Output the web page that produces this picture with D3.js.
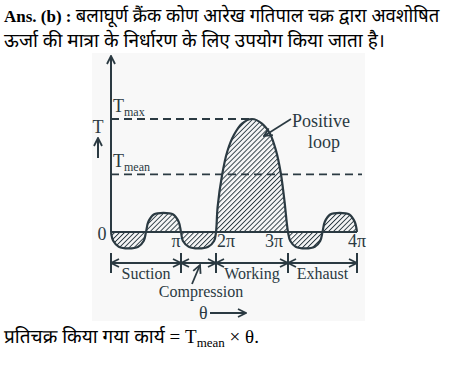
<!DOCTYPE html>
<html>
<head>
<meta charset="utf-8">
<script src="https://cdn.jsdelivr.net/npm/d3@7"></script>
<style>
  body { margin: 0; background: #fff; }
  svg { display: block; }
</style>
</head>
<body>
<svg id="chart" width="470" height="376"></svg>
<script>
// crank angle (deg) at phase boundaries
var boundaries = [0, 180, 360, 540, 720];
var tickLabels = ["0", "\u03c0", "2\u03c0", "3\u03c0", "4\u03c0"];
var phases = ["Suction", "Compression", "Working", "Exhaust"];

// turning moment curve (T in % of Tmax)
var angles = [0, 6, 20, 45, 70, 84, 90, 96, 110, 135, 160, 174, 180,
              190, 220, 270, 320, 350, 360,
              364, 375, 388, 405, 425, 450, 475, 495, 510, 522, 531, 540,
              546, 560, 585, 610, 624, 630, 636, 650, 675, 700, 714, 720];
var torque = [0, -8, -13, -14.5, -13, -8, 0, 9, 15.5, 17, 15.5, 9, 0,
              -8, -13, -14.5, -13, -8, 0,
              22, 50, 71, 86, 96, 100, 96, 87, 72, 52, 28, 0,
              -8, -13, -14.5, -13, -8, 0, 9, 15.5, 17, 15.5, 9, 0];
var Tmax = 100;
var Tmean = 51;

var ink = "#2b3a42";
var serif = "'Liberation Serif', 'Times New Roman', serif";
var hindi = "'Noto Sans Devanagari', 'Lohit Devanagari', FreeSerif, 'Noto Sans', sans-serif";
var svg = d3.select("#chart");

var x = d3.scaleLinear().domain(boundaries).range([111, 181, 216, 288, 357]);
var y = d3.scaleLinear().domain([0, 100]).range([232, 119]);

var pts = angles.map(function (a, i) { return {a: a, t: torque[i]}; });

var defs = svg.append("defs");
var pat = defs.append("pattern").attr("id", "hatch")
    .attr("patternUnits", "userSpaceOnUse").attr("width", 3.5).attr("height", 3.5)
    .attr("patternTransform", "rotate(45)");
pat.append("line").attr("x1", 0).attr("y1", 0).attr("x2", 0).attr("y2", 3.5)
    .attr("stroke", ink).attr("stroke-width", 1.9);

function chevron(id, orient) {
  defs.append("marker").attr("id", id).attr("viewBox", "0 0 10 10")
    .attr("refX", 9).attr("refY", 5).attr("markerWidth", 10).attr("markerHeight", 10)
    .attr("markerUnits", "userSpaceOnUse").attr("orient", orient)
    .append("path").attr("d", "M1,1 L9,5 L1,9").attr("fill", "none")
    .attr("stroke", ink).attr("stroke-width", 1.8);
}
chevron("arrEnd", "auto");
chevron("arrStart", "auto-start-reverse");

// pale panel behind the diagram
svg.append("rect").attr("x", 92).attr("y", 53).attr("width", 273).attr("height", 268)
    .attr("fill", "#f8f8f8");

// header text
var hdr = svg.append("text").attr("x", 4).attr("y", 22).attr("fill", "#000");
hdr.append("tspan").attr("font-family", serif).attr("font-weight", "bold")
    .style("font-size", "17px").text("Ans. (b) : ");
hdr.append("tspan").attr("font-family", hindi).style("font-size", "18.5px")
    .text("बलाघूर्ण क्रैंक कोण आरेख गतिपाल चक्र द्वारा अवशोषित");
svg.append("text").attr("x", 4).attr("y", 47).attr("fill", "#000")
    .attr("font-family", hindi).style("font-size", "19px")
    .text("ऊर्जा की मात्रा के निर्धारण के लिए उपयोग किया जाता है।");

// curve fill + outline
var curve = d3.curveCatmullRom.alpha(0.5);
var area = d3.area().x(function (d) { return x(d.a); })
    .y0(y(0)).y1(function (d) { return y(d.t); }).curve(curve);
var line = d3.line().x(function (d) { return x(d.a); })
    .y(function (d) { return y(d.t); }).curve(curve);

svg.append("path").datum(pts).attr("d", area).attr("fill", "url(#hatch)");

// dashed Tmax / Tmean lines
svg.append("line").attr("x1", x(0)).attr("x2", x(450)).attr("y1", y(Tmax)).attr("y2", y(Tmax))
    .attr("stroke", ink).attr("stroke-width", 1.8).attr("stroke-dasharray", "8,5");
svg.append("line").attr("x1", x(0)).attr("x2", 362).attr("y1", y(Tmean)).attr("y2", y(Tmean))
    .attr("stroke", ink).attr("stroke-width", 1.8).attr("stroke-dasharray", "8,5");

svg.append("path").datum(pts).attr("d", line).attr("fill", "none")
    .attr("stroke", ink).attr("stroke-width", 2.2);

// zero line and T axis
svg.append("line").attr("x1", x(0)).attr("x2", x(720)).attr("y1", y(0)).attr("y2", y(0))
    .attr("stroke", ink).attr("stroke-width", 2);
svg.append("line").attr("x1", x(0)).attr("x2", x(0)).attr("y1", y(0)).attr("y2", 56)
    .attr("stroke", ink).attr("stroke-width", 2).attr("marker-end", "url(#arrEnd)");

// tick labels
var tickDx = [-9, -5, 10, -14, 0];
svg.selectAll(".tick").data(boundaries).enter().append("text")
    .attr("x", function (d, i) { return x(d) + tickDx[i]; })
    .attr("y", function (d, i) { return i == 0 ? 240 : 247; })
    .attr("text-anchor", "middle").attr("font-family", serif).style("font-size", "18px")
    .attr("fill", ink).text(function (d, i) { return tickLabels[i]; });

// T labels
function subLabel(xp, yp, sub) {
  var t = svg.append("text").attr("x", xp).attr("y", yp).attr("font-family", serif)
      .attr("fill", ink).style("font-size", "18px");
  t.append("tspan").text("T");
  t.append("tspan").attr("dy", 4).style("font-size", "12px").text(sub);
}
subLabel(113, y(Tmax) - 7, "max");
subLabel(113, y(Tmean) - 7, "mean");
svg.append("text").attr("x", 98).attr("y", 133).attr("text-anchor", "middle")
    .attr("font-family", serif).style("font-size", "18px").attr("fill", ink).text("T");
svg.append("line").attr("x1", 98).attr("x2", 98).attr("y1", 158).attr("y2", 138)
    .attr("stroke", ink).attr("stroke-width", 2).attr("marker-end", "url(#arrEnd)");

// positive loop label
svg.append("line").attr("x1", 291).attr("y1", 119).attr("x2", 264).attr("y2", 136)
    .attr("stroke", ink).attr("stroke-width", 1.6).attr("marker-end", "url(#arrEnd)");
svg.append("text").attr("x", 292).attr("y", 127).attr("font-family", serif)
    .style("font-size", "18px").attr("fill", ink).text("Positive");
svg.append("text").attr("x", 324).attr("y", 148).attr("text-anchor", "middle").attr("font-family", serif)
    .style("font-size", "18px").attr("fill", ink).text("loop");

// phase dimension row
var rowY = 263;
svg.selectAll(".bar").data(boundaries).enter().append("line")
    .attr("x1", function (d) { return x(d); }).attr("x2", function (d) { return x(d); })
    .attr("y1", rowY - 10).attr("y2", rowY + 10)
    .attr("stroke", ink).attr("stroke-width", 2);
svg.selectAll(".seg").data(phases).enter().append("line")
    .attr("x1", function (d, i) { return x(boundaries[i]); })
    .attr("x2", function (d, i) { return x(boundaries[i + 1]); })
    .attr("y1", rowY).attr("y2", rowY)
    .attr("stroke", ink).attr("stroke-width", 2)
    .attr("marker-start", "url(#arrStart)").attr("marker-end", "url(#arrEnd)");
svg.selectAll(".phase").data(phases).enter().append("text")
    .attr("x", function (d, i) {
      return i == 1 ? 201 : (x(boundaries[i]) + x(boundaries[i + 1])) / 2;
    })
    .attr("y", function (d, i) { return i == 1 ? 297 : 279; })
    .attr("text-anchor", "middle").attr("font-family", serif).style("font-size", "16px")
    .attr("fill", ink).text(function (d) { return d; });
svg.append("line").attr("x1", 192).attr("y1", 284).attr("x2", 200).attr("y2", 265)
    .attr("stroke", ink).attr("stroke-width", 1.8).attr("marker-end", "url(#arrEnd)");

// theta arrow
svg.append("text").attr("x", 199).attr("y", 319).attr("font-family", serif)
    .style("font-size", "18px").attr("fill", ink).text("\u03b8");
svg.append("line").attr("x1", 210).attr("x2", 246).attr("y1", 313).attr("y2", 313)
    .attr("stroke", ink).attr("stroke-width", 2).attr("marker-end", "url(#arrEnd)");

// bottom line
var bot = svg.append("text").attr("x", 4).attr("y", 343).attr("fill", "#000");
bot.append("tspan").attr("font-family", hindi).style("font-size", "19px")
    .text("प्रतिचक्र किया गया कार्य ");
bot.append("tspan").attr("font-family", serif).style("font-size", "19px").text("= T");
bot.append("tspan").attr("font-family", serif).attr("dy", 4).style("font-size", "13px").text("mean");
bot.append("tspan").attr("font-family", serif).attr("dy", -4).style("font-size", "19px").text(" \u00d7 \u03b8.");
</script>
</body>
</html>
